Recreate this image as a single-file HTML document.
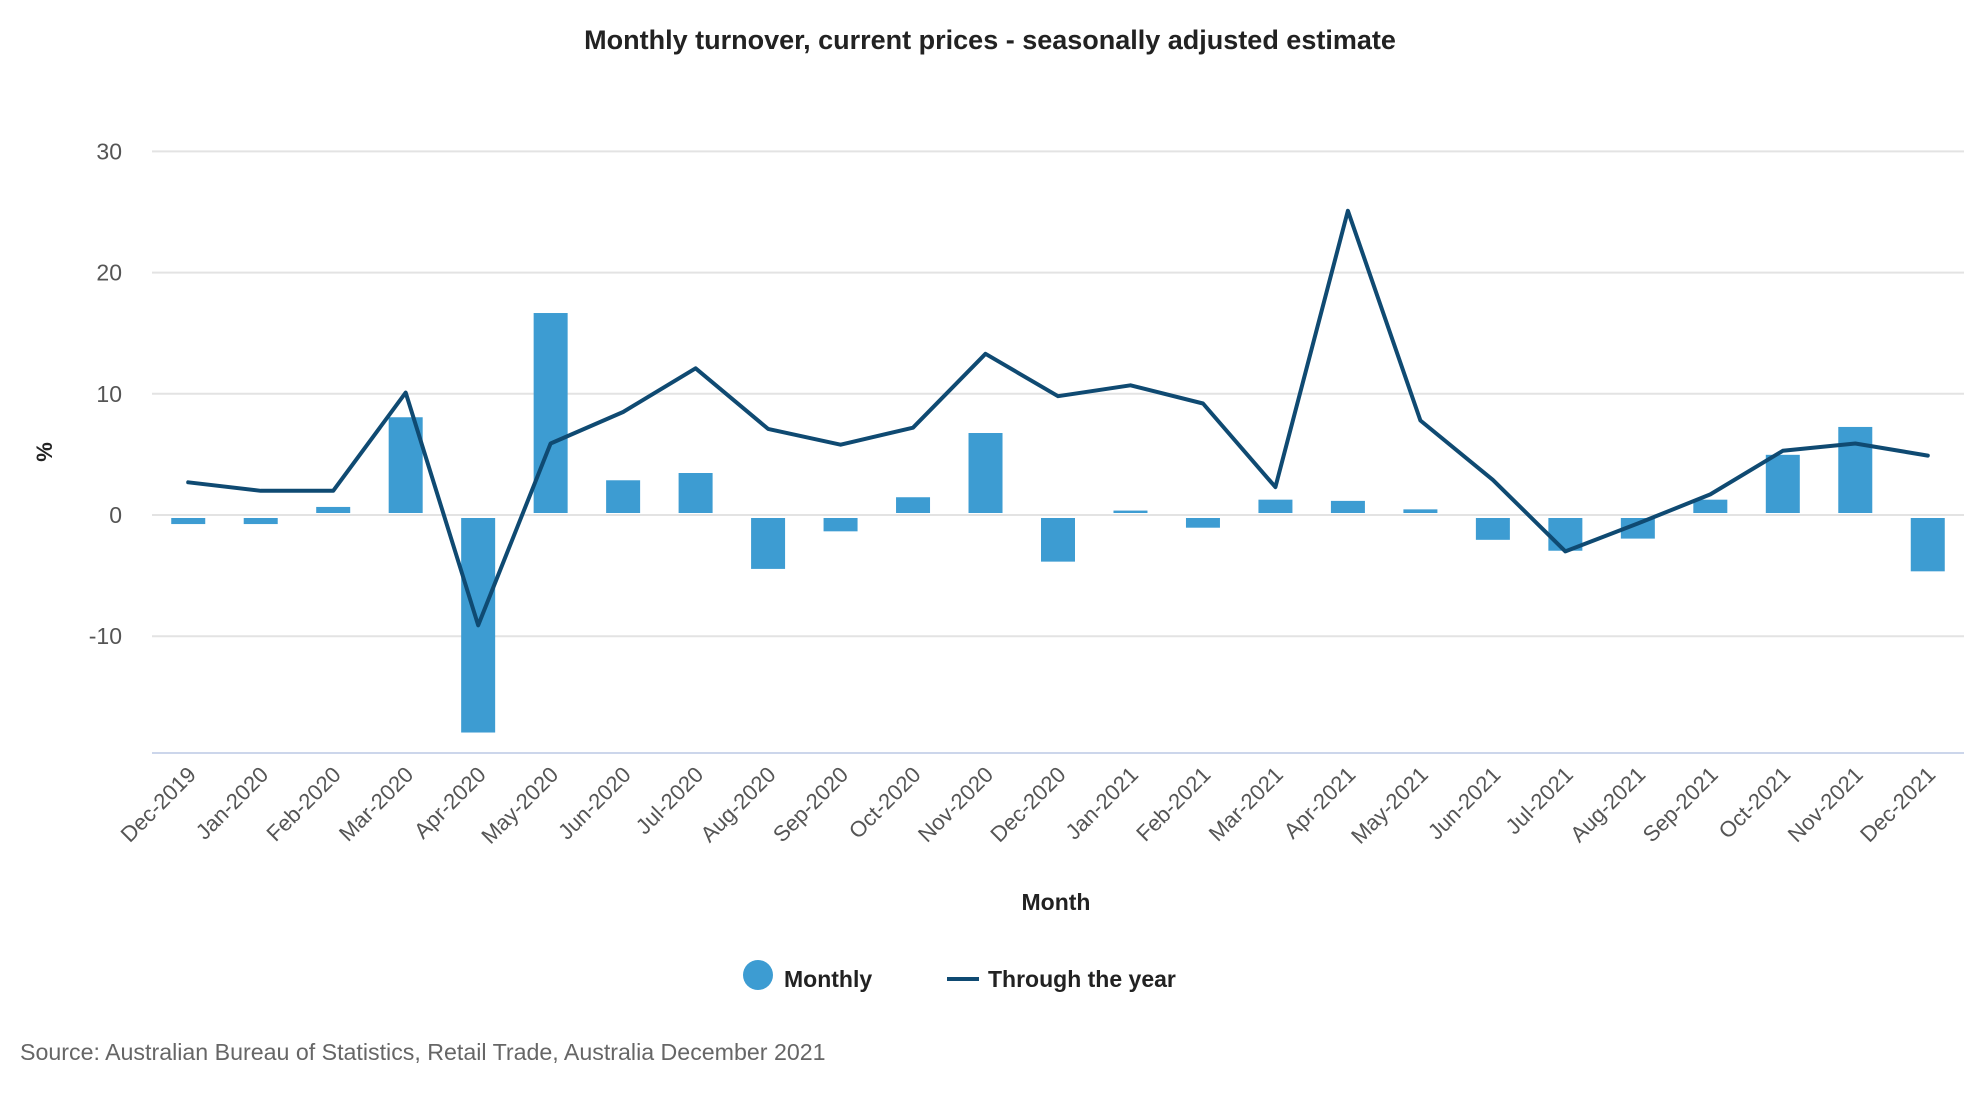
<!DOCTYPE html>
<html><head><meta charset="utf-8"><style>
html,body{margin:0;padding:0;background:#fff;}
svg{display:block;font-family:"Liberation Sans",sans-serif;}
</style></head><body>
<svg id="chart" width="1980" height="1100" viewBox="0 0 1980 1100">
<text x="990" y="49" text-anchor="middle" font-size="27" font-weight="bold" fill="#222">Monthly turnover, current prices - seasonally adjusted estimate</text>
<g id="grid"></g>
<g id="yticks"></g>
<text transform="translate(52,452) rotate(-90)" text-anchor="middle" font-size="22" font-weight="bold" fill="#222">%</text>
<g id="bars"></g>
<path id="line" fill="none" stroke="#0f4a72" stroke-width="4" stroke-linejoin="round" stroke-linecap="round"></path>
<line x1="152" y1="753" x2="1964" y2="753" stroke="#ccd6eb" stroke-width="2"/>
<g id="xticks"></g>
<text x="1056" y="910" text-anchor="middle" font-size="23" font-weight="bold" fill="#222">Month</text>
<g>
<circle cx="758" cy="975" r="15" fill="#3d9cd2"/>
<text x="784" y="987" font-size="23" font-weight="bold" fill="#222">Monthly</text>
</g>
<g>
<line x1="947" y1="979" x2="979" y2="979" stroke="#0f4a72" stroke-width="4"/>
<text x="988" y="987" font-size="23" font-weight="bold" fill="#222">Through the year</text>
</g>
<text x="20" y="1060" font-size="23.2" fill="#666">Source: Australian Bureau of Statistics, Retail Trade, Australia December 2021</text>
</svg>
<script>
const categories=["Dec-2019","Jan-2020","Feb-2020","Mar-2020","Apr-2020","May-2020","Jun-2020","Jul-2020","Aug-2020","Sep-2020","Oct-2020","Nov-2020","Dec-2020","Jan-2021","Feb-2021","Mar-2021","Apr-2021","May-2021","Jun-2021","Jul-2021","Aug-2021","Sep-2021","Oct-2021","Nov-2021","Dec-2021"];
const monthly=[-0.5,-0.5,0.5,7.9,-17.7,16.5,2.7,3.3,-4.2,-1.1,1.3,6.6,-3.6,0.2,-0.8,1.1,1.0,0.3,-1.8,-2.7,-1.7,1.1,4.8,7.1,-4.4];
const throughYear=[2.7,2.0,2.0,10.1,-9.1,5.9,8.5,12.1,7.1,5.8,7.2,13.3,9.8,10.7,9.2,2.3,25.1,7.8,2.9,-3.0,-0.7,1.7,5.3,5.9,4.9];
const yTicks=[-10,0,10,20,30];
const NS="http://www.w3.org/2000/svg";
const L=152,R=1964,Y0=515,PX=12.12;
const band=(R-L)/categories.length;
function x(i){return L+band*(i+0.5);}
function y(v){return Y0-v*PX;}
function mk(t,a,p){const e=document.createElementNS(NS,t);for(const k in a)e.setAttribute(k,a[k]);p.appendChild(e);return e;}
const grid=document.getElementById('grid'),yt=document.getElementById('yticks');
yTicks.forEach(v=>{
 const g=mk('line',{x1:L,x2:R,y1:y(v),y2:y(v),stroke:'#e3e3e3','stroke-width':2},grid);
 
 
 const t=mk('text',{x:122,y:y(v)+8,'text-anchor':'end','font-size':23,fill:'#555'},yt);
 t.textContent=v;
 
 
});
const bars=document.getElementById('bars');
monthly.forEach((v,i)=>{
 const bw=34;const top=v>=0?y(v):y(0)+3;const h=Math.max(2,Math.abs(y(v)-y(0)));
 const r=mk('rect',{x:x(i)-bw/2,y:v>=0?top-2:top,width:bw,height:h,fill:'#3d9cd2'},bars);
 
 
});
document.getElementById('line').setAttribute('d',throughYear.map((v,i)=>(i?'L':'M')+x(i).toFixed(1)+','+y(v).toFixed(1)).join(''));
const xt=document.getElementById('xticks');
categories.forEach((c,i)=>{
 const t=mk('text',{transform:`translate(${x(i)+9},${776}) rotate(-45)`,'text-anchor':'end','font-size':22,fill:'#555'},xt);
 t.textContent=c;
 
 
});
</script>
</body></html>
